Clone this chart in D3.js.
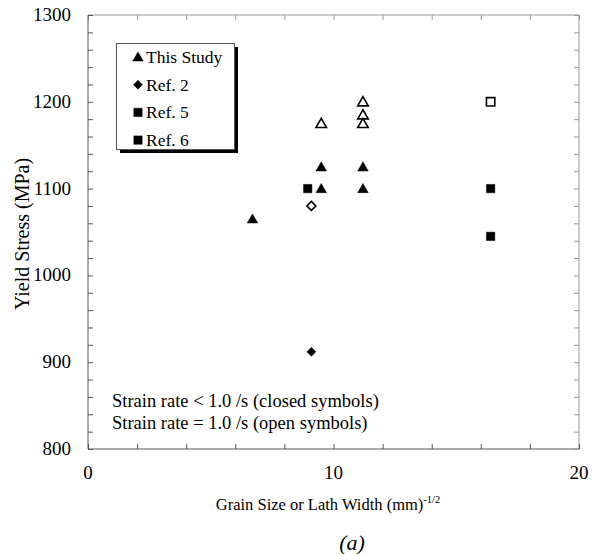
<!DOCTYPE html>
<html>
<head>
<meta charset="utf-8">
<script src="https://cdn.jsdelivr.net/npm/d3@7"></script>
<style>
  html, body { margin: 0; padding: 0; background: #fff; }
  svg { display: block; }
</style>
</head>
<body>
<svg id="chart" width="597" height="554" font-family="'Liberation Serif', 'Times New Roman', Times, serif"></svg>
<script>
// ---- data ----
const xTicks = [0, 10, 20];
const yTicks = [800, 900, 1000, 1100, 1200, 1300];

// This Study (triangles)
const studyClosedX = [6.7, 9.5, 9.5, 11.2, 11.2];
const studyClosedY = [1065, 1125, 1100, 1125, 1100];
const studyOpenX = [9.5, 11.2, 11.2, 11.2];
const studyOpenY = [1175, 1200, 1185, 1175];
// Ref. 2 (diamonds)
const ref2ClosedX = [9.1];
const ref2ClosedY = [912];
const ref2OpenX = [9.1];
const ref2OpenY = [1080];
// Ref. 5 (rounded squares)
const ref5ClosedX = [8.95];
const ref5ClosedY = [1100];
// Ref. 6 (squares)
const ref6ClosedX = [16.4, 16.4];
const ref6ClosedY = [1100, 1045];
const ref6OpenX = [16.4];
const ref6OpenY = [1200];

const legendLabels = ["This Study", "Ref. 2", "Ref. 5", "Ref. 6"];
const noteLines = ["Strain rate < 1.0 /s (closed symbols)", "Strain rate = 1.0 /s (open symbols)"];

// ---- layout ----
const FONT = "'Liberation Serif', 'Times New Roman', Times, serif";
const svg = d3.select("#chart");
const L = 88, R = 579, T = 15, B = 449;
const x = d3.scaleLinear().domain([0, 20]).range([L, R]);
const y = d3.scaleLinear().domain([800, 1300]).range([B, T]);

// frame
svg.append("line").attr("x1", L).attr("x2", R).attr("y1", T).attr("y2", T).attr("stroke", "#999").attr("stroke-width", 1);
svg.append("line").attr("x1", R).attr("x2", R).attr("y1", T).attr("y2", B).attr("stroke", "#999").attr("stroke-width", 1);

// axes: ticks inward
const minorX = d3.range(0, 20.001, 2);
const minorY = d3.range(800, 1300.001, 20);

const gx = svg.append("g").attr("transform", `translate(0,${B})`)
  .call(d3.axisTop(x).tickValues(minorX).tickSize(5).tickFormat(""));
const gx2 = svg.append("g").attr("transform", `translate(0,${T})`)
  .call(d3.axisBottom(x).tickValues(minorX).tickSize(5).tickFormat(""));
const gy = svg.append("g").attr("transform", `translate(${L},0)`)
  .call(d3.axisRight(y).tickValues(minorY).tickSize(5).tickFormat(""));
const gy2 = svg.append("g").attr("transform", `translate(${R},0)`)
  .call(d3.axisLeft(y).tickValues(minorY).tickSize(5).tickFormat(""));
[gx, gy].forEach(g => { g.selectAll("path,line").attr("stroke", "#555"); });
[gx2, gy2].forEach(g => { g.selectAll("path,line").attr("stroke", "#999"); g.select(".domain").remove(); });
gx.select(".domain").attr("d", `M${L},0H${R}`);
gy.select(".domain").attr("d", `M0,${T}V${B}`);

function txt(sel) { return sel.attr("font-family", FONT).attr("fill", "#000"); }

// tick labels
txt(svg.append("g").selectAll("text").data(xTicks).join("text"))
  .attr("x", d => x(d)).attr("y", B + 30).attr("text-anchor", "middle")
  .attr("font-size", 19).text(d => d);
txt(svg.append("g").selectAll("text").data(yTicks).join("text"))
  .attr("x", L - 17).attr("y", d => y(d) + 6).attr("text-anchor", "end")
  .attr("font-size", 19).text(d => d);

// axis titles
const xt = txt(svg.append("text")).attr("x", 328).attr("y", 510).attr("text-anchor", "middle").attr("font-size", 16.5);
xt.append("tspan").text("Grain Size or Lath Width (mm)");
xt.append("tspan").attr("dy", -7).attr("font-size", 10.5).text("-1/2");
txt(svg.append("text")).attr("transform", `translate(29,${(T + B) / 2 + 2}) rotate(-90)`)
  .attr("text-anchor", "middle").attr("font-size", 20).text("Yield Stress (MPa)");
txt(svg.append("text")).attr("x", 352).attr("y", 550).attr("text-anchor", "middle")
  .attr("font-size", 22).attr("font-style", "italic").text("(a)");

// markers
const tri = d3.symbol().type(d3.symbolTriangle).size(48);
const sq = d3.symbol().type(d3.symbolSquare).size(70);
const dia = d3.symbol().type(d3.symbolSquare).size(40);

function plot(xs, ys, gen, open, rx) {
  svg.append("g").selectAll("path").data(xs.map((v, i) => [v, ys[i]])).join("path")
    .attr("d", gen)
    .attr("transform", d => `translate(${x(d[0])},${y(d[1]) + (gen === tri ? 1 : 0)})` + (gen === dia ? " rotate(45)" : ""))
    .attr("fill", open ? "#fff" : "#000")
    .attr("stroke", "#000")
    .attr("stroke-width", open ? 1.6 : 0.5)
    .attr("stroke-linejoin", rx ? "round" : "miter");
}
plot(studyClosedX, studyClosedY, tri, false);
plot(studyOpenX, studyOpenY, tri, true);
plot(ref2ClosedX, ref2ClosedY, dia, false);
plot(ref2OpenX, ref2OpenY, dia, true);
plot(ref5ClosedX, ref5ClosedY, sq, false, true);
plot(ref6ClosedX, ref6ClosedY, sq, false);
plot(ref6OpenX, ref6OpenY, sq, true);

// legend
const lg = svg.append("g");
lg.append("rect").attr("x", 120).attr("y", 47).attr("width", 118).attr("height", 106).attr("fill", "#000");
lg.append("rect").attr("x", 116.5).attr("y", 43.5).attr("width", 118).attr("height", 106).attr("fill", "#fff").attr("stroke", "#555");
const legGens = [tri, dia, sq, sq];
legendLabels.forEach((lab, i) => {
  const yy = 57 + i * 27.7;
  lg.append("path").attr("d", legGens[i])
    .attr("transform", `translate(138,${yy + (i === 0 ? 1 : 0)})` + (i === 1 ? " rotate(45)" : ""))
    .attr("fill", "#000").attr("stroke", "#000").attr("stroke-width", 0.5)
    .attr("stroke-linejoin", i === 2 ? "round" : "miter");
  txt(lg.append("text")).attr("x", 146).attr("y", yy + 6).attr("font-size", 17.5).text(lab);
});

// notes
noteLines.forEach((t, i) => {
  txt(svg.append("text")).attr("x", 112).attr("y", 407 + i * 22).attr("font-size", 18.5).text(t);
});
</script>
</body>
</html>
